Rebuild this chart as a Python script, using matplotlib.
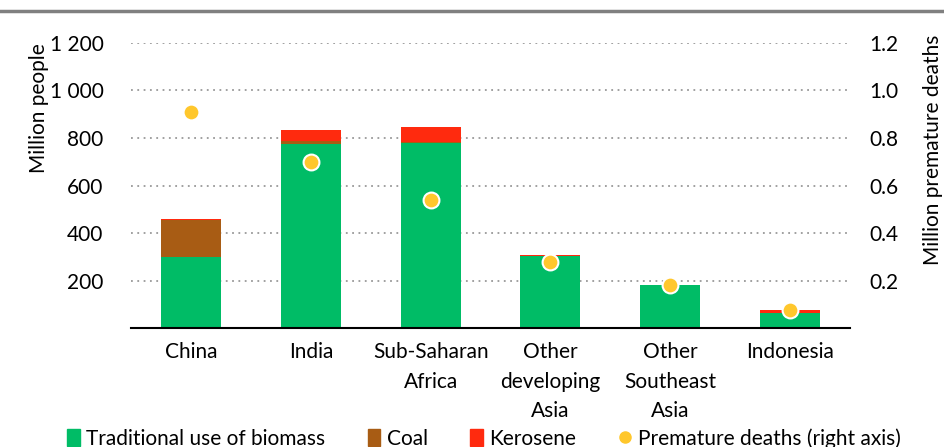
import numpy as np
import matplotlib
matplotlib.use("Agg")
import matplotlib.pyplot as plt
from matplotlib.ticker import FuncFormatter
from matplotlib.lines import Line2D
from matplotlib.patches import Patch

plt.rcParams['font.family'] = ['Lato', 'DejaVu Sans']

regions = ['China', 'India', 'Sub-Saharan\nAfrica', 'Other\ndeveloping\nAsia',
           'Other\nSoutheast\nAsia', 'Indonesia']
biomass = [300, 775, 780, 305, 180, 63]
coal = [155, 12, 5, 0, 0, 0]
kerosene = [3, 45, 60, 3, 2, 13]
deaths = [0.91, 0.70, 0.54, 0.28, 0.18, 0.076]

c_bio = '#00BC66'
c_coal = '#A85C14'
c_ker = '#FF2A0E'
c_dot = '#FFC72C'
fs = 15

fig = plt.figure(figsize=(9.45, 4.47), dpi=100)
ax = fig.add_axes([0.139, 0.266, 0.76, 0.638])
ax2 = ax.twinx()

x = np.arange(len(regions))
bio = np.array(biomass)
cl = np.array(coal)
ker = np.array(kerosene)
ax.bar(x, bio, width=0.5, color=c_bio, zorder=2)
ax.bar(x, cl, width=0.5, bottom=bio, color=c_coal, zorder=2)
ax.bar(x, ker, width=0.5, bottom=bio + cl, color=c_ker, zorder=2)

ax2.scatter(x, deaths, s=130, color=c_dot, edgecolor='white', linewidth=1.5, zorder=3)

ax.set_xlim(-0.5, len(regions) - 0.5)
ax.set_ylim(0, 1200)
ax2.set_ylim(0, 1.2)
ax.set_yticks([200, 400, 600, 800, 1000, 1200])
ax2.set_yticks([0.2, 0.4, 0.6, 0.8, 1.0, 1.2])
ax.yaxis.set_major_formatter(FuncFormatter(lambda v, p: '{:,.0f}'.format(v).replace(',', ' ')))
ax2.yaxis.set_major_formatter(FuncFormatter(lambda v, p: '%.1f' % v))
ax.grid(axis='y', color='#999999', linestyle=(0, (1, 2.5)), linewidth=1.3, zorder=0)
ax.set_axisbelow(True)

for a in (ax, ax2):
    for s in ['top', 'left', 'right', 'bottom']:
        a.spines[s].set_visible(False)
    a.tick_params(length=0, labelsize=fs)
ax.spines['bottom'].set_visible(True)
ax.spines['bottom'].set_linewidth(1.5)
ax.spines['bottom'].set_color('black')
ax.tick_params(axis='y', pad=20)
ax2.tick_params(axis='y', pad=14)

ax.set_xticks(x)
ax.set_xticklabels(regions, linespacing=1.6, va='top')
ax.tick_params(axis='x', pad=10)

ax.set_ylabel('Million people', fontsize=fs, va='center', ha='right')
ax.yaxis.set_label_coords(-0.128, 1.0)
ax2.set_ylabel('Million premature deaths', fontsize=fs, va='center', ha='right', rotation=90)
ax2.yaxis.set_label_coords(1.116, 1.03)

fig.add_artist(Line2D([0, 1], [0.975, 0.975], color='#808080', linewidth=2.5))

handles = [Patch(color=c_bio, label='Traditional use of biomass'),
           Patch(color=c_coal, label='Coal'),
           Patch(color=c_ker, label='Kerosene'),
           Line2D([], [], marker='o', linestyle='none', color=c_dot, markersize=8,
                  label='Premature deaths (right axis)')]
fig.legend(handles=handles, loc='lower center', bbox_to_anchor=(0.512, -0.046), ncol=4,
           frameon=False, fontsize=fs, handlelength=0.6, handleheight=0.85,
           handletextpad=0.3, columnspacing=2.05)

fig.savefig('out.png', dpi=100)
